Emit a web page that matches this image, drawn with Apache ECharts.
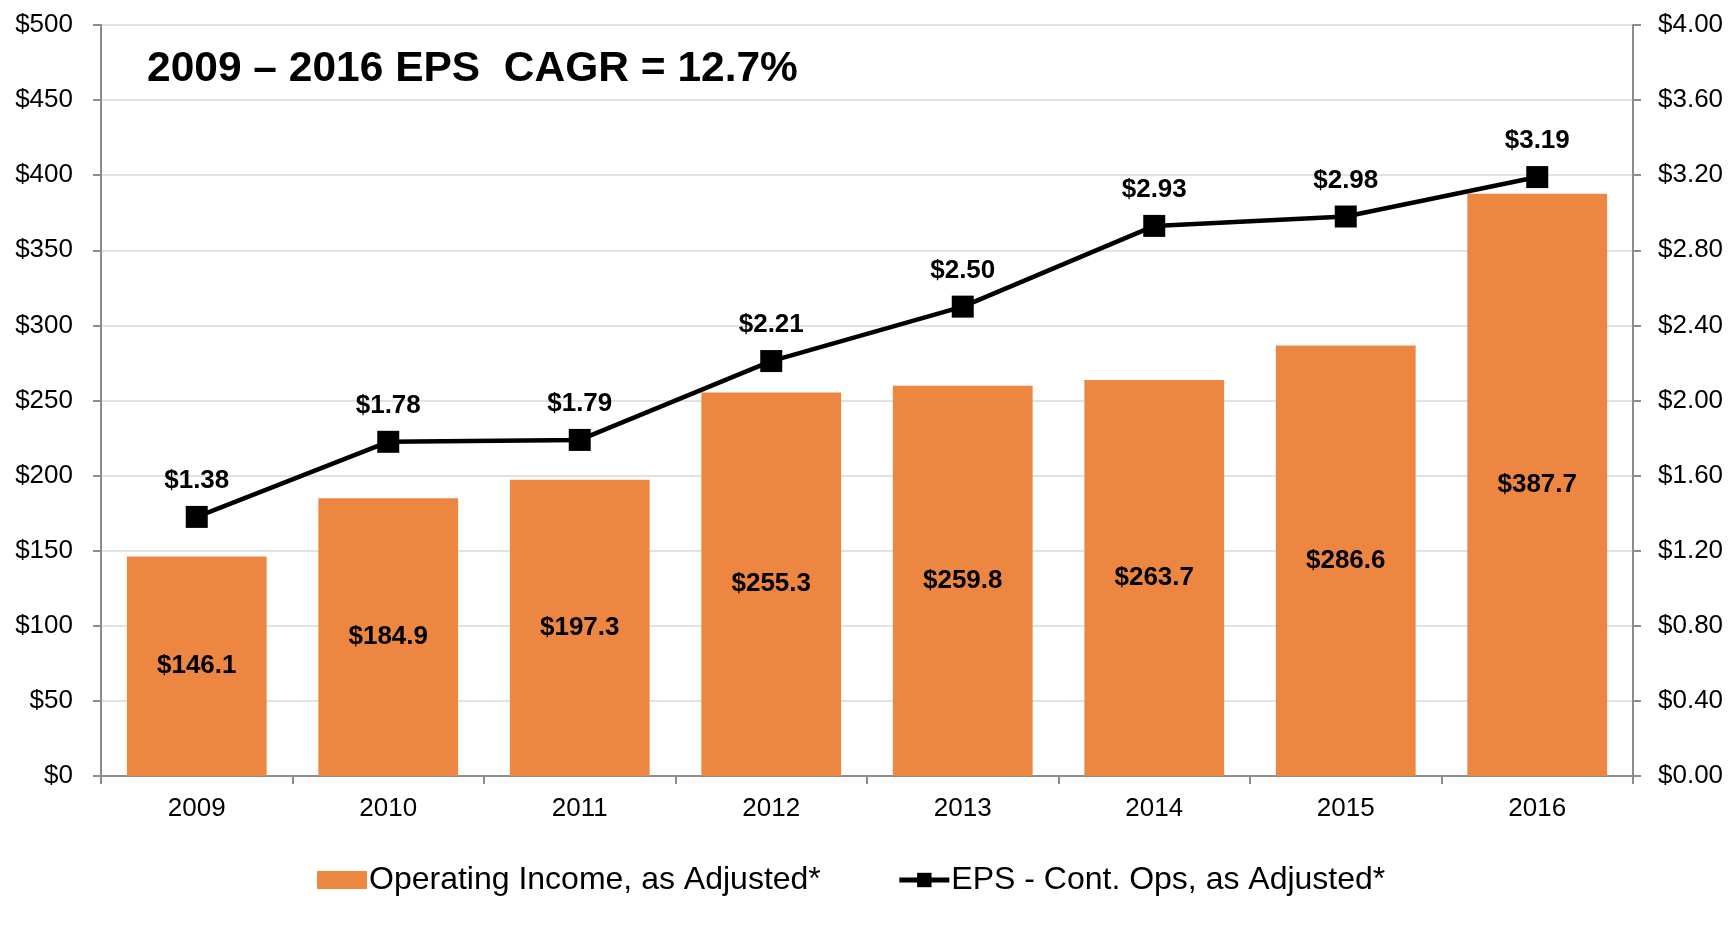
<!DOCTYPE html>
<html lang="en">
<head>
<meta charset="utf-8">
<title>Operating Income and EPS</title>
<script src="https://cdn.jsdelivr.net/npm/echarts@6/dist/echarts.min.js"></script>
<style>
  html,body{width:100%;height:100%;margin:0;padding:0;overflow:hidden;background:#fff;}
  #main{width:1728px;height:925px;}
</style>
</head>
<body>
<div id="main"></div>
<script>
var years = ['2009','2010','2011','2012','2013','2014','2015','2016'];
var operatingIncome = [146.1, 184.9, 197.3, 255.3, 259.8, 263.7, 286.6, 387.7];
var eps = [1.38, 1.78, 1.79, 2.21, 2.50, 2.93, 2.98, 3.19];
var titleText = '2009 \u2013 2016 EPS  CAGR = 12.7%';

var font = 'Liberation Sans, Arial, sans-serif';
var axisGray = '#8c8c8c';

var myChart = echarts.init(document.getElementById('main'));
var option = {
  animation: false,
  textStyle: {fontFamily: font},
  title: {
    text: titleText,
    left: 142,
    top: 43,
    textStyle: {fontSize: 42.5, fontWeight: 'bold', color: '#000', fontFamily: font}
  },
  grid: {left: 101, right: 95, top: 25, bottom: 149},
  legend: {
    bottom: 24,
    left: 312,
    itemGap: 76,
    itemWidth: 50,
    itemHeight: 18,
    textStyle: {fontSize: 32, color: '#000', fontFamily: font, padding: [0, 0, 0, -3]},
    data: [
      {name: 'Operating Income, as Adjusted*', icon: 'rect'},
      {name: 'EPS - Cont. Ops, as Adjusted*', lineStyle: {width: 5}}
    ]
  },
  xAxis: {
    type: 'category',
    data: years,
    axisLine: {lineStyle: {color: axisGray, width: 2}},
    axisTick: {show: true, length: 8, lineStyle: {color: axisGray, width: 2}},
    axisLabel: {fontSize: 26, color: '#000', margin: 20}
  },
  yAxis: [{
    type: 'value',
    min: 0, max: 500, interval: 50,
    axisLine: {show: true, lineStyle: {color: axisGray, width: 2}},
    axisTick: {show: true, length: 8, lineStyle: {color: axisGray, width: 2}},
    splitLine: {lineStyle: {color: '#d9d9d9', width: 1.5}},
    axisLabel: {fontSize: 26, color: '#000', margin: 28, formatter: function (v) { return '$' + v; }}
  }, {
    type: 'value',
    min: 0, max: 4, interval: 0.4,
    position: 'right',
    axisLine: {show: true, lineStyle: {color: axisGray, width: 2}},
    axisTick: {show: true, length: 8, lineStyle: {color: axisGray, width: 2}},
    splitLine: {show: false},
    axisLabel: {fontSize: 26, color: '#000', margin: 25, formatter: function (v) { return '$' + v.toFixed(2); }}
  }],
  series: [{
    name: 'Operating Income, as Adjusted*',
    type: 'bar',
    data: operatingIncome,
    barCategoryGap: '27%',
    itemStyle: {color: '#ED8641'},
    label: {
      show: true,
      position: 'inside',
      fontSize: 26,
      fontWeight: 'bold',
      color: '#000',
      formatter: function (p) { return '$' + p.value.toFixed(1); }
    }
  }, {
    name: 'EPS - Cont. Ops, as Adjusted*',
    type: 'line',
    yAxisIndex: 1,
    data: eps,
    symbol: 'rect',
    symbolSize: 22,
    itemStyle: {color: '#000'},
    lineStyle: {color: '#000', width: 4.5},
    label: {
      show: true,
      position: 'top',
      distance: 12,
      fontSize: 26,
      fontWeight: 'bold',
      color: '#000',
      formatter: function (p) { return '$' + p.value.toFixed(2); }
    }
  }]
};
myChart.setOption(option);
</script>
</body>
</html>
